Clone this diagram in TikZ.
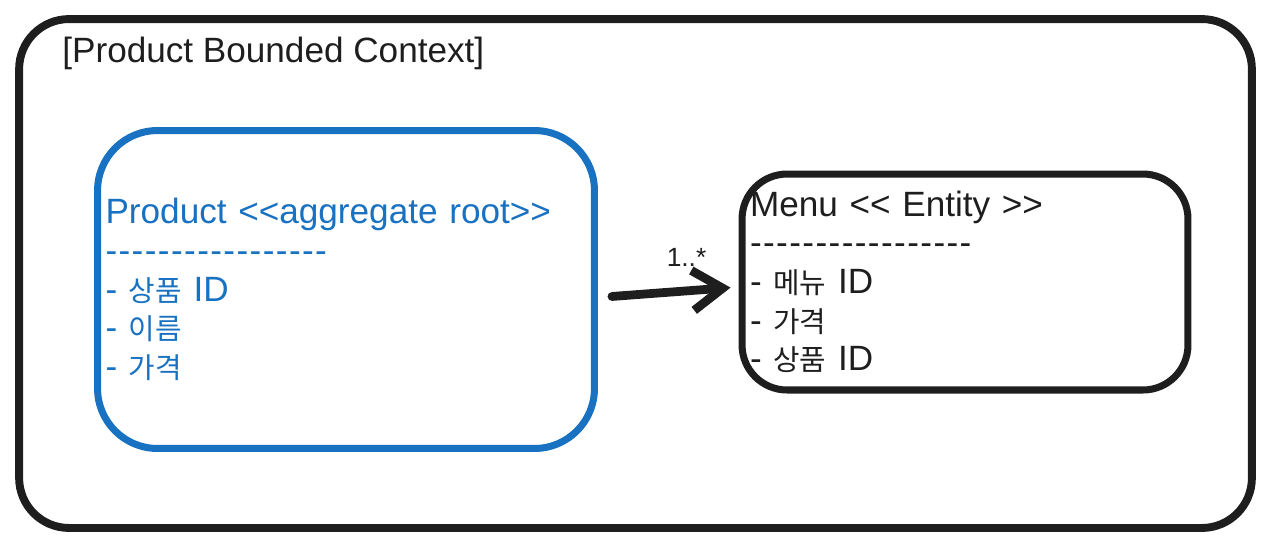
\documentclass[tikz,border=0pt]{standalone}
\usepackage{fontspec}
\usepackage{tikz}
\usetikzlibrary{arrows.meta,positioning}
\newfontfamily\sketchfont{Liberation Sans}
\newfontfamily\krfont[Scale=0.82]{Noto Sans CJK KR}
\newcommand{\kr}[1]{{\krfont #1}}
\newcommand{\dashline}{{\addfontfeature{LetterSpace=4}-----------------}}
\definecolor{inkblack}{HTML}{1E1E1E}
\definecolor{rootblue}{HTML}{1971C2}
\tikzset{
  sketchtext/.style={font=\sketchfont\fontsize{20}{22}\selectfont},
  roundbox/.style={
    draw,sketchtext,align=left,inner xsep=0.16cm,inner ysep=0pt
  },
  contextbox/.style={
    draw=inkblack,line width=4.5pt,rounded corners=1cm,
    minimum width=24.66cm,minimum height=10.18cm
  },
  rootbox/.style={roundbox,draw=rootblue,text=rootblue,line width=4pt,
    rounded corners=1.2cm,text width=9.62cm,minimum height=6.36cm},
  entitybox/.style={roundbox,draw=inkblack,text=inkblack,line width=4pt,
    rounded corners=0.9cm,text width=8.6cm,minimum height=4.32cm},
  relarrow/.style={-{Straight Barb[length=0.6cm,width=0.8cm]},line width=5pt,
    draw=inkblack,line cap=round,line join=round}
}
\begin{document}
\begin{tikzpicture}[x=0.02cm,y=-0.02cm]
  \useasboundingbox (0,0) rectangle (1270,549);
  % bounded context frame
  \node[contextbox] (context) at (635.5,273.5) {};
  \node[sketchtext,text=inkblack,anchor=base west,inner sep=0pt] (title) at (62,62)
    {[Product Bounded Context]};
  % aggregate root and entity
  \node[rootbox] (product) at (346,289.5)
    {Product <<aggregate root>>\\\dashline\\- \kr{상품} ID\\- \kr{이름}\\- \kr{가격}};
  \node[entitybox] (menu) at (965,282)
    {Menu << Entity >>\\\dashline\\- \kr{메뉴} ID\\- \kr{가격}\\- \kr{상품} ID};
  \draw[relarrow,shorten <=0.28cm,shorten >=0.16cm]
    ([yshift=-0.16cm]product.east) -- ([yshift=-0.1cm]menu.west)
    node[pos=0.63,above=0.4cm,inner sep=0pt,text=inkblack,
      font=\sketchfont\fontsize{15}{18}\selectfont] (mult) {1..*};
\end{tikzpicture}
\end{document}
